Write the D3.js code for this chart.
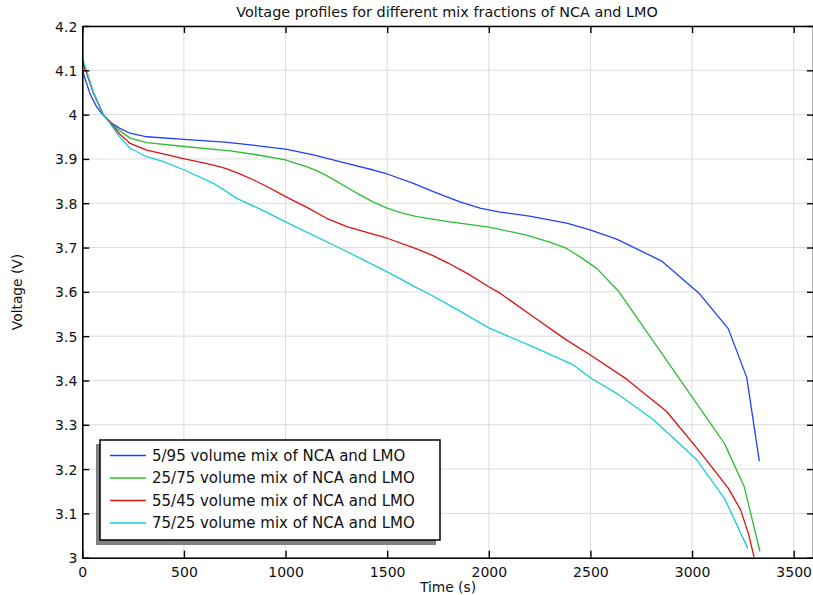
<!DOCTYPE html>
<html>
<head>
<meta charset="utf-8">
<script src="https://cdn.jsdelivr.net/npm/d3@7"></script>
<style>
  html, body { margin: 0; padding: 0; background: #fff; }
  svg { display: block; font-family: "DejaVu Sans", Verdana, sans-serif; }
</style>
</head>
<body>
<svg id="chart" width="813" height="595"></svg>
<script>
// Discharge voltage profiles, time in seconds and voltage in volts
const mix_5_95_t  = [0, 20, 40, 70, 100, 136, 180, 235, 317, 500, 700, 841, 1000, 1137, 1301, 1432, 1500, 1629, 1727, 1858, 1957, 2055, 2200, 2383, 2498, 2629, 2849, 3034, 3178, 3269, 3331];
const mix_5_95_v  = [4.100, 4.072, 4.045, 4.018, 4.000, 3.984, 3.970, 3.958, 3.950, 3.944, 3.938, 3.931, 3.922, 3.909, 3.890, 3.875, 3.866, 3.845, 3.826, 3.803, 3.789, 3.780, 3.771, 3.755, 3.740, 3.719, 3.670, 3.597, 3.517, 3.407, 3.218];

const mix_25_75_t = [0, 20, 54, 103, 136, 180, 235, 317, 502, 727, 850, 1000, 1050, 1100, 1150, 1200, 1250, 1300, 1366, 1430, 1500, 1570, 1645, 1809, 2002, 2186, 2300, 2383, 2449, 2531, 2637, 3159, 3257, 3334];
const mix_25_75_v = [4.122, 4.097, 4.050, 4.000, 3.984, 3.965, 3.947, 3.937, 3.928, 3.918, 3.910, 3.898, 3.890, 3.883, 3.874, 3.863, 3.850, 3.836, 3.819, 3.803, 3.789, 3.778, 3.770, 3.758, 3.746, 3.728, 3.712, 3.698, 3.679, 3.653, 3.602, 3.258, 3.160, 3.014];

const mix_55_45_t = [0, 20, 54, 103, 136, 180, 235, 317, 420, 502, 580, 645, 700, 760, 841, 920, 1000, 1112, 1202, 1301, 1500, 1645, 1720, 1800, 1900, 2002, 2055, 2219, 2383, 2498, 2678, 2875, 3039, 3178, 3239, 3277, 3305];
const mix_55_45_v = [4.118, 4.095, 4.050, 4.000, 3.983, 3.958, 3.935, 3.920, 3.909, 3.900, 3.893, 3.886, 3.879, 3.869, 3.853, 3.835, 3.815, 3.789, 3.766, 3.747, 3.721, 3.697, 3.683, 3.665, 3.640, 3.611, 3.597, 3.544, 3.491, 3.458, 3.403, 3.330, 3.239, 3.157, 3.108, 3.055, 3.002];

const mix_75_25_t = [0, 20, 54, 103, 136, 180, 235, 317, 399, 502, 645, 700, 760, 883, 1000, 1301, 1500, 1563, 1630, 1711, 1790, 1875, 2002, 2219, 2416, 2503, 2629, 2809, 3023, 3162, 3274];
const mix_75_25_v = [4.128, 4.100, 4.052, 4.000, 3.980, 3.952, 3.924, 3.905, 3.894, 3.875, 3.845, 3.829, 3.811, 3.785, 3.758, 3.691, 3.645, 3.630, 3.613, 3.594, 3.574, 3.552, 3.518, 3.476, 3.435, 3.405, 3.371, 3.312, 3.221, 3.132, 3.021];

const seriesNames = [
  "5/95 volume mix of NCA and LMO",
  "25/75 volume mix of NCA and LMO",
  "55/45 volume mix of NCA and LMO",
  "75/25 volume mix of NCA and LMO"
];
const seriesColors = ["#1f40ff", "#2fbb33", "#dd1010", "#14d0d6"];

const xTicks = [0, 500, 1000, 1500, 2000, 2500, 3000, 3500];
const yTicks = [3.0, 3.1, 3.2, 3.3, 3.4, 3.5, 3.6, 3.7, 3.8, 3.9, 4.0, 4.1, 4.2];

const titleText = "Voltage profiles for different mix fractions of NCA and LMO";
const xLabel = "Time (s)";
const yLabel = "Voltage (V)";

const series = [
  [mix_5_95_t, mix_5_95_v],
  [mix_25_75_t, mix_25_75_v],
  [mix_55_45_t, mix_55_45_v],
  [mix_75_25_t, mix_75_25_v]
].map(([t, v], i) => ({
  name: seriesNames[i],
  color: seriesColors[i],
  points: t.map((tt, j) => ({ t: tt, v: v[j] }))
}));

// Plot frame
const plotLeft = 82.3, plotTop = 26, plotRight = 814, plotBottom = 557.7;

const svg = d3.select("#chart");

const x = d3.scaleLinear().domain([0, 3600]).range([plotLeft, plotRight]);
const y = d3.scaleLinear().domain([3.0, 4.2]).range([plotBottom, plotTop]);

// Grid
const grid = svg.append("g").attr("stroke", "#dcdcdc").attr("stroke-width", 1);
grid.selectAll("line.gx").data(xTicks).join("line")
  .attr("x1", d => x(d)).attr("x2", d => x(d))
  .attr("y1", plotTop).attr("y2", plotBottom);
grid.selectAll("line.gy").data(yTicks).join("line")
  .attr("x1", plotLeft).attr("x2", plotRight)
  .attr("y1", d => y(d)).attr("y2", d => y(d));

// Curves
const line = d3.line().x(d => x(d.t)).y(d => y(d.v)).curve(d3.curveLinear);
svg.append("g").selectAll("path").data(series).join("path")
  .attr("fill", "none")
  .attr("stroke", d => d.color)
  .attr("stroke-width", 1.3)
  .attr("stroke-linejoin", "round")
  .attr("d", d => line(d.points));

// Axes with inward ticks
const fmtX = d3.format("d");
const fmtY = d => String(+d.toFixed(1));
function styleAxis(g) {
  g.select(".domain").attr("stroke", "#000").attr("stroke-width", 1.6);
  g.selectAll(".tick line").attr("stroke", "#000").attr("stroke-width", 1.4);
  g.selectAll(".tick text").attr("fill", "#111").attr("font-size", 14)
    .attr("font-family", "DejaVu Sans, Verdana, sans-serif");
}
svg.append("g").attr("transform", `translate(0,${plotBottom})`)
  .call(d3.axisBottom(x).tickValues(xTicks).tickFormat(fmtX).tickSizeInner(-7).tickSizeOuter(0).tickPadding(9))
  .call(styleAxis);
svg.append("g").attr("transform", `translate(${plotLeft},0)`)
  .call(d3.axisLeft(y).tickValues(yTicks).tickFormat(fmtY).tickSizeInner(-7).tickSizeOuter(0).tickPadding(5))
  .call(styleAxis)
  .selectAll(".tick text").attr("dy", "0.36em");
svg.append("g").attr("transform", `translate(0,${plotTop})`)
  .call(d3.axisTop(x).tickValues(xTicks).tickFormat("").tickSizeInner(-7).tickSizeOuter(0))
  .call(styleAxis);
svg.append("g").attr("transform", `translate(${plotRight - 1},0)`)
  .call(d3.axisRight(y).tickValues(yTicks).tickFormat("").tickSizeInner(-6).tickSizeOuter(0))
  .call(styleAxis);

// Titles
svg.append("text").attr("x", 447).attr("y", 17).attr("text-anchor", "middle")
  .attr("font-size", 14.4).attr("fill", "#111").text(titleText);
svg.append("text").attr("x", 448).attr("y", 592).attr("text-anchor", "middle")
  .attr("font-size", 13.8).attr("fill", "#111").text(xLabel);
svg.append("text").attr("transform", "translate(22,292) rotate(-90)").attr("text-anchor", "middle")
  .attr("font-size", 13.8).attr("fill", "#111").text(yLabel);

// Legend with drop shadow
const lg = svg.append("g");
lg.append("rect").attr("x", 96).attr("y", 444).attr("width", 340).attr("height", 101).attr("fill", "#808080");
lg.append("rect").attr("x", 100).attr("y", 440).attr("width", 340).attr("height", 100)
  .attr("fill", "#fff").attr("stroke", "#000").attr("stroke-width", 1.5);
const rows = lg.selectAll("g.row").data(series).join("g")
  .attr("transform", (d, i) => `translate(0,${455.5 + i * 22.5})`);
rows.append("line").attr("x1", 110).attr("x2", 146).attr("y1", 0).attr("y2", 0)
  .attr("stroke", d => d.color).attr("stroke-width", 1.4);
rows.append("text").attr("x", 152).attr("y", 0).attr("dy", "0.36em")
  .attr("font-size", 15).attr("fill", "#111").text(d => d.name);
</script>
</body>
</html>
